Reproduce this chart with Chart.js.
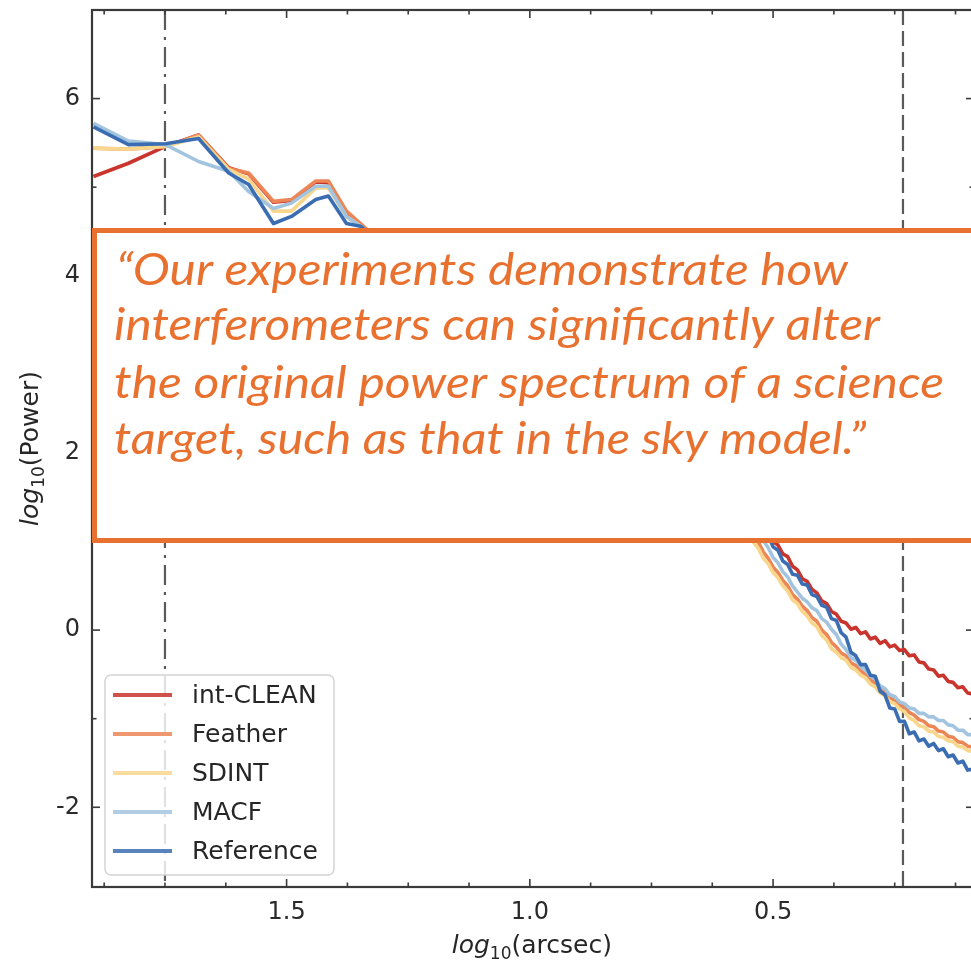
<!DOCTYPE html>
<html>
<head>
<meta charset="utf-8">
<script src="https://cdn.jsdelivr.net/npm/chart.js@4.4.1/dist/chart.umd.min.js"></script>
<style>
  html, body { margin: 0; padding: 0; background: #ffffff; overflow: hidden; }
  #wrap { position: absolute; left: 0; top: 0; width: 980px; height: 960px; }
</style>
</head>
<body>
<div id="wrap"><canvas id="spectrum" width="980" height="960"></canvas></div>
<script>
// Angular scale grid, log10(arcsec), shared by all spectra
const logArcsec = [
  1.897, 1.825, 1.749, 1.681, 1.619, 1.578, 1.527, 1.490, 1.440, 1.414, 1.377, 1.348,
  1.31, 1.25, 1.15, 1.05, 0.95, 0.85, 0.75, 0.66, 0.58,
  0.55, 0.54, 0.53, 0.52, 0.51, 0.50, 0.49, 0.48, 0.47, 0.46,
  0.45, 0.44, 0.43, 0.42, 0.41, 0.40, 0.39, 0.38, 0.37, 0.36,
  0.35, 0.34, 0.33, 0.32, 0.31, 0.30, 0.29, 0.28, 0.27, 0.26,
  0.25, 0.24, 0.23, 0.22, 0.21, 0.20, 0.19, 0.18, 0.17, 0.16,
  0.15, 0.14, 0.13, 0.12, 0.11, 0.10, 0.09
];

// log10(Power) for each imaging method
const intClean = [
  5.12, 5.27, 5.46, 5.59, 5.22, 5.15, 4.83, 4.85, 5.06, 5.05, 4.70, 4.57,
  4.40, 4.22, 3.92, 3.55, 3.15, 2.70, 2.22, 1.78, 1.52,
  1.40, 1.31, 1.26, 1.15, 1.10, 1.00, 0.96, 0.86, 0.83, 0.72,
  0.68, 0.58, 0.55, 0.46, 0.42, 0.33, 0.30, 0.21, 0.18, 0.10,
  0.08, 0.01, 0.03, -0.04, -0.02, -0.10, -0.08, -0.15, -0.12, -0.19,
  -0.17, -0.23, -0.22, -0.29, -0.28, -0.36, -0.37, -0.44, -0.45, -0.52,
  -0.51, -0.58, -0.59, -0.65, -0.64, -0.71, -0.72
];
const feather = [
  5.44, 5.43, 5.46, 5.59, 5.21, 5.16, 4.84, 4.86, 5.07, 5.07, 4.73, 4.59,
  4.40, 4.20, 3.89, 3.50, 3.08, 2.61, 2.10, 1.62, 1.30,
  1.18, 1.07, 0.99, 0.88, 0.81, 0.71, 0.65, 0.56, 0.50, 0.40,
  0.35, 0.27, 0.22, 0.14, 0.10, 0.00, -0.05, -0.14, -0.19, -0.26,
  -0.29, -0.37, -0.40, -0.46, -0.50, -0.56, -0.60, -0.66, -0.70, -0.76,
  -0.79, -0.85, -0.87, -0.93, -0.96, -1.01, -1.03, -1.08, -1.09, -1.14,
  -1.15, -1.20, -1.21, -1.26, -1.27, -1.31, -1.32
];
const sdint = [
  5.44, 5.43, 5.46, 5.57, 5.20, 5.09, 4.73, 4.73, 4.99, 4.99, 4.67, 4.56,
  4.38, 4.18, 3.86, 3.47, 3.04, 2.56, 2.05, 1.56, 1.22,
  1.11, 0.99, 0.92, 0.81, 0.75, 0.65, 0.59, 0.50, 0.44, 0.34,
  0.30, 0.21, 0.16, 0.08, 0.04, -0.06, -0.11, -0.21, -0.25, -0.31,
  -0.34, -0.42, -0.45, -0.51, -0.54, -0.61, -0.64, -0.71, -0.74, -0.81,
  -0.83, -0.89, -0.92, -0.99, -1.02, -1.08, -1.09, -1.14, -1.15, -1.20,
  -1.21, -1.25, -1.26, -1.31, -1.32, -1.36, -1.37
];
const macf = [
  5.72, 5.52, 5.48, 5.29, 5.18, 4.95, 4.76, 4.82, 5.01, 5.01, 4.67, 4.56,
  4.38, 4.19, 3.88, 3.50, 3.08, 2.62, 2.13, 1.68, 1.42,
  1.30, 1.20, 1.13, 1.01, 0.93, 0.82, 0.76, 0.66, 0.60, 0.50,
  0.43, 0.36, 0.32, 0.25, 0.22, 0.13, 0.09, 0.01, -0.05, -0.16,
  -0.22, -0.31, -0.34, -0.41, -0.45, -0.52, -0.55, -0.63, -0.66, -0.73,
  -0.75, -0.81, -0.83, -0.88, -0.89, -0.94, -0.94, -0.98, -0.98, -1.02,
  -1.02, -1.07, -1.08, -1.13, -1.13, -1.18, -1.18
];
const reference = [
  5.68, 5.48, 5.49, 5.55, 5.16, 5.03, 4.59, 4.67, 4.86, 4.90, 4.59, 4.56,
  4.38, 4.20, 3.90, 3.52, 3.12, 2.66, 2.18, 1.74, 1.50,
  1.36, 1.27, 1.23, 1.11, 1.07, 0.94, 0.90, 0.78, 0.74, 0.63,
  0.62, 0.52, 0.51, 0.40, 0.38, 0.28, 0.26, 0.13, 0.11, -0.03,
  -0.08, -0.25, -0.29, -0.39, -0.39, -0.51, -0.52, -0.69, -0.73, -0.88,
  -0.89, -1.03, -1.03, -1.17, -1.15, -1.25, -1.23, -1.31, -1.28, -1.36,
  -1.34, -1.43, -1.41, -1.50, -1.48, -1.58, -1.57
];

const seriesNames = ['int-CLEAN', 'Feather', 'SDINT', 'MACF', 'Reference'];
const seriesValues = [intClean, feather, sdint, macf, reference];

// Axis ticks
const xMajorTicks = [1.5, 1.0, 0.5];
const xMinorTicks = [1.875, 1.75, 1.625, 1.375, 1.25, 1.125, 0.875, 0.75, 0.625, 0.375, 0.25, 0.125];
const yMajorTicks = [-2, 0, 2, 4, 6];
const yMinorTicks = [-1, 1, 3, 5];

// Reference scales marked by vertical lines (log10 arcsec)
const beamMarks = [1.75, 0.233];

const quoteLines = [
  '\u201cOur experiments demonstrate how',
  'interferometers can significantly alter',
  'the original power spectrum of a science',
  'target, such as that in the sky model.\u201d'
];

const lineColors = ['#c9342d', '#ec8656', '#f8d68c', '#a2c4df', '#3b6db2'];
const axisColor = '#3a3a3a';
const quoteColor = '#e9712f';

const datasets = seriesNames.map((name, i) => ({
  label: name,
  data: logArcsec.map((x, j) => ({ x: x, y: seriesValues[i][j] })),
  borderColor: lineColors[i],
  backgroundColor: lineColors[i],
  borderWidth: 3.6,
  pointRadius: 0,
  showLine: true,
  fill: false,
  tension: 0,
  borderJoinStyle: 'round',
  order: seriesNames.length - i
}));

function drawPieces(ctx, pieces, x, y, align) {
  let total = 0;
  pieces.forEach(p => { ctx.font = p.font; p.w = ctx.measureText(p.t).width; total += p.w; });
  let cx = align === 'center' ? x - total / 2 : x;
  ctx.textAlign = 'left';
  ctx.textBaseline = 'alphabetic';
  pieces.forEach(p => {
    ctx.font = p.font;
    ctx.fillText(p.t, cx, y + (p.dy || 0));
    cx += p.w;
  });
}

const decorations = {
  id: 'decorations',
  beforeDatasetsDraw(chart) {
    const { ctx, chartArea: a, scales: { x } } = chart;
    ctx.save();
    ctx.strokeStyle = '#5a5a5a';
    ctx.lineWidth = 2.2;
    // dash-dot and dashed scale markers
    [[20, 7, 3, 7], [15, 6]].forEach((dash, i) => {
      const px = x.getPixelForValue(beamMarks[i]);
      ctx.setLineDash(dash);
      ctx.beginPath();
      ctx.moveTo(px, a.top);
      ctx.lineTo(px, a.bottom);
      ctx.stroke();
    });
    ctx.restore();
  },
  afterDatasetsDraw(chart) {
    const { ctx, chartArea: a, scales: { x, y } } = chart;
    ctx.save();
    // frame
    ctx.strokeStyle = axisColor;
    ctx.lineWidth = 2.2;
    ctx.strokeRect(a.left, a.top, a.right - a.left, a.bottom - a.top);
    // inward ticks on all four sides
    ctx.lineWidth = 1.6;
    const tick = (x1, y1, x2, y2) => { ctx.beginPath(); ctx.moveTo(x1, y1); ctx.lineTo(x2, y2); ctx.stroke(); };
    xMajorTicks.forEach(v => { const p = x.getPixelForValue(v); tick(p, a.bottom, p, a.bottom - 8); tick(p, a.top, p, a.top + 8); });
    xMinorTicks.forEach(v => { const p = x.getPixelForValue(v); tick(p, a.bottom, p, a.bottom - 4.5); tick(p, a.top, p, a.top + 4.5); });
    yMajorTicks.forEach(v => { const p = y.getPixelForValue(v); tick(a.left, p, a.left + 8, p); tick(a.right, p, a.right - 8, p); });
    yMinorTicks.forEach(v => { const p = y.getPixelForValue(v); tick(a.left, p, a.left + 4.5, p); tick(a.right, p, a.right - 4.5, p); });

    // legend
    const lx = 105, ly = 675, lw = 229, lh = 200, r = 6;
    ctx.beginPath();
    ctx.roundRect(lx, ly, lw, lh, r);
    ctx.fillStyle = 'rgba(255,255,255,0.82)';
    ctx.fill();
    ctx.strokeStyle = '#d4d4d4';
    ctx.lineWidth = 1.5;
    ctx.stroke();
    ctx.font = '25px "DejaVu Sans"';
    ctx.textBaseline = 'middle';
    ctx.textAlign = 'left';
    chart.data.datasets.forEach((ds, i) => {
      const cy = 695 + i * 39;
      ctx.strokeStyle = ds.borderColor;
      ctx.globalAlpha = 0.85;
      ctx.lineWidth = 4;
      ctx.beginPath();
      ctx.moveTo(113, cy);
      ctx.lineTo(172, cy);
      ctx.stroke();
      ctx.globalAlpha = 1;
      ctx.fillStyle = '#262626';
      ctx.fillText(ds.label, 192, cy + 1);
    });

    // axis titles
    ctx.fillStyle = '#262626';
    drawPieces(ctx, [
      { t: 'log', font: 'oblique 25px "DejaVu Sans"' },
      { t: '10', font: '17px "DejaVu Sans"', dy: 6 },
      { t: '(arcsec)', font: '25px "DejaVu Sans"' }
    ], x.getPixelForValue(1.0) + 2, 953, 'center');
    ctx.save();
    ctx.translate(38, (a.top + a.bottom) / 2);
    ctx.rotate(-Math.PI / 2);
    drawPieces(ctx, [
      { t: 'log', font: 'oblique 25px "DejaVu Sans"' },
      { t: '10', font: '17px "DejaVu Sans"', dy: 6 },
      { t: '(Power)', font: '25px "DejaVu Sans"' }
    ], 0, 0, 'center');
    ctx.restore();

    ctx.restore();
  },
  afterDraw(chart) {
    const { ctx } = chart;
    ctx.save();
    // quotation panel
    ctx.fillStyle = quoteColor;
    ctx.fillRect(92, 228, 900, 315);
    ctx.fillStyle = '#ffffff';
    ctx.fillRect(97, 233, 900, 305);
    ctx.fillStyle = quoteColor;
    ctx.font = 'italic 44px Lato';
    ctx.textAlign = 'left';
    ctx.textBaseline = 'alphabetic';
    const starts = [116, 114, 114, 114];
    const ends = [848, 880, 944, 866];
    const baselines = [285, 340, 398, 454];
    quoteLines.forEach((line, i) => {
      const w = ctx.measureText(line).width;
      const s = (ends[i] - starts[i]) / w;
      ctx.save();
      ctx.translate(starts[i], baselines[i]);
      ctx.scale(s, 1);
      ctx.fillText(line, 0, 0);
      ctx.restore();
    });
    ctx.restore();
  }
};

new Chart(document.getElementById('spectrum'), {
  type: 'scatter',
  data: { datasets: datasets },
  options: {
    responsive: false,
    animation: false,
    devicePixelRatio: 1,
    layout: { padding: { left: 0, right: 6, top: 10, bottom: 0 } },
    plugins: { legend: { display: false }, tooltip: { enabled: false } },
    scales: {
      x: {
        type: 'linear',
        reverse: true,
        min: 0.087,
        max: 1.9,
        grid: { display: false, drawTicks: false },
        border: { display: false },
        afterBuildTicks(s) { s.ticks = xMajorTicks.map(v => ({ value: v })); },
        afterFit(s) { s.height = 73; s.paddingLeft = 0; s.paddingRight = 0; },
        ticks: {
          autoSkip: false, maxRotation: 0, padding: 11, color: '#2a2a2a',
          font: { family: 'DejaVu Sans', size: 24 },
          callback: v => Number(v).toFixed(1)
        }
      },
      y: {
        type: 'linear',
        min: -2.9,
        max: 7.0,
        grid: { display: false, drawTicks: false },
        border: { display: false },
        afterBuildTicks(s) { s.ticks = yMajorTicks.map(v => ({ value: v })); },
        afterFit(s) { s.width = 92; s.paddingTop = 0; s.paddingBottom = 0; },
        ticks: {
          autoSkip: false, padding: 12, color: '#2a2a2a',
          font: { family: 'DejaVu Sans', size: 24 },
          callback: v => String(v)
        }
      }
    }
  },
  plugins: [decorations]
});
</script>
</body>
</html>
